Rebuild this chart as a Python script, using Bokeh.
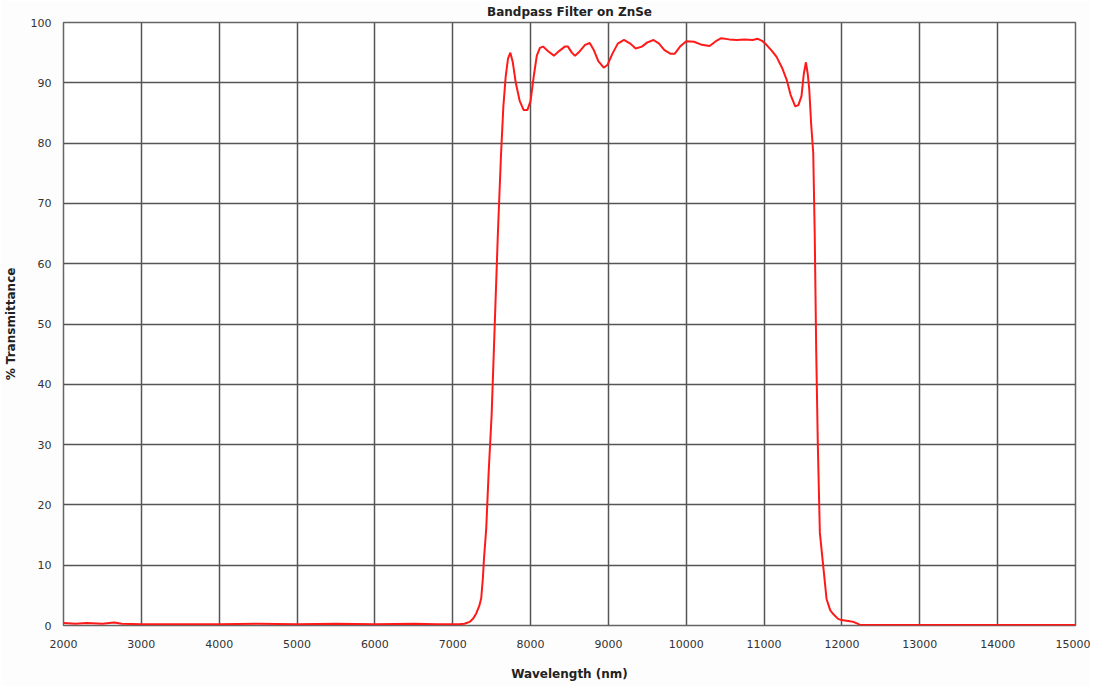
from bokeh.plotting import figure
from bokeh.models import FixedTicker, Range1d
from bokeh.embed import file_html
from bokeh.resources import INLINE

title_text = "Bandpass Filter on ZnSe"
x_label = "Wavelength (nm)"
y_label = "% Transmittance"

x_ticks = list(range(2000, 15001, 1000))
y_ticks = list(range(0, 101, 10))

wavelength = [2000, 2150, 2300, 2500, 2650, 2750, 3000, 3500, 4000, 4500, 5000, 5500, 6000, 6500, 6800,
              7000, 7085, 7150, 7217, 7260, 7302, 7340, 7366, 7388, 7401, 7430, 7460, 7500, 7540, 7580,
              7620, 7650, 7680, 7710, 7740, 7770, 7810, 7860, 7910, 7960, 8000, 8040, 8080, 8120, 8160,
              8230, 8300, 8370, 8440, 8480, 8530, 8570, 8630, 8700, 8760, 8810, 8870, 8940, 8990, 9050,
              9120, 9200, 9280, 9350, 9430, 9500, 9580, 9650, 9720, 9800, 9850, 9920, 10000, 10100, 10200,
              10300, 10380, 10450, 10550, 10650, 10750, 10850, 10920, 10980, 11030, 11100, 11160, 11230,
              11290, 11340, 11400, 11440, 11480, 11510, 11537, 11560, 11580, 11605, 11631, 11650, 11670,
              11690, 11716, 11759, 11802, 11850, 11888, 11950, 11995, 12100, 12146, 12200, 12231, 12500,
              13000, 14000, 15000]
transmittance = [0.4, 0.3, 0.4, 0.3, 0.5, 0.3, 0.2, 0.2, 0.2, 0.3, 0.2, 0.3, 0.2, 0.3, 0.2,
                 0.2, 0.2, 0.3, 0.6, 1.1, 2.0, 3.2, 4.5, 8.0, 11, 16, 25, 35, 50, 65,
                 78, 86, 91, 94, 95, 93.5, 90, 87, 85.5, 85.5, 87, 91, 94.5, 95.8, 96,
                 95.2, 94.5, 95.3, 96, 96, 95, 94.5, 95.2, 96.3, 96.6, 95.5, 93.6, 92.5, 93, 94.8,
                 96.5, 97.1, 96.5, 95.7, 96, 96.7, 97.1, 96.5, 95.4, 94.8, 94.8, 96, 96.9, 96.8, 96.3,
                 96.1, 96.9, 97.4, 97.2, 97.1, 97.2, 97.1, 97.3, 96.9, 96.3, 95.3, 94.3, 92.5,
                 90.5, 88, 86.1, 86.3, 87.8, 91.5, 93.4, 91.5, 88.9, 83, 78.4, 65, 45,
                 30, 15.4, 9.9, 4.4, 2.5, 1.9, 1.1, 0.9, 0.7, 0.6, 0.3, 0.1, 0.1,
                 0.1, 0.1, 0.1]

p = figure(width=1090, height=686, output_backend="svg", toolbar_location=None,
           x_range=Range1d(2000, 15000), y_range=Range1d(0, 100),
           min_border_left=63, min_border_right=15, min_border_top=22, min_border_bottom=61)
p.title.text = title_text
p.title.align = "center"
p.title.vertical_align = "top"
p.title.text_font = "DejaVu Sans"
p.title.text_font_size = "12px"
p.title.text_font_style = "bold"
p.title.text_color = "#222222"
p.title.standoff = 4
p.title.offset = 0

p.background_fill_color = "white"
p.border_fill_color = "#fdfdfd"
p.outline_line_color = "#666666"
p.outline_line_width = 1.5

p.line(wavelength, transmittance, line_color="#ff1a1a", line_width=2)

for ax in (p.xaxis, p.yaxis):
    ax.axis_line_color = None
    ax.major_tick_line_color = None
    ax.minor_tick_line_color = None
    ax.major_label_text_font = "DejaVu Sans"
    ax.major_label_text_font_size = "11px"
    ax.major_label_text_color = "#333333"
    ax.axis_label_text_font = "DejaVu Sans"
    ax.axis_label_text_font_size = "12px"
    ax.axis_label_text_font_style = "bold"
    ax.axis_label_text_color = "#222222"

p.xaxis.ticker = FixedTicker(ticks=x_ticks)
p.yaxis.ticker = FixedTicker(ticks=y_ticks)
p.xaxis.major_label_standoff = 8
p.yaxis.major_label_standoff = 6
p.xaxis.axis_label = x_label
p.yaxis.axis_label = y_label
p.xaxis.axis_label_standoff = 16
p.yaxis.axis_label_standoff = 10

p.xgrid.grid_line_color = "#555555"
p.ygrid.grid_line_color = "#555555"
p.xgrid.grid_line_width = 1.5
p.ygrid.grid_line_width = 1.5

open("out.html", "w").write(file_html(p, INLINE))
